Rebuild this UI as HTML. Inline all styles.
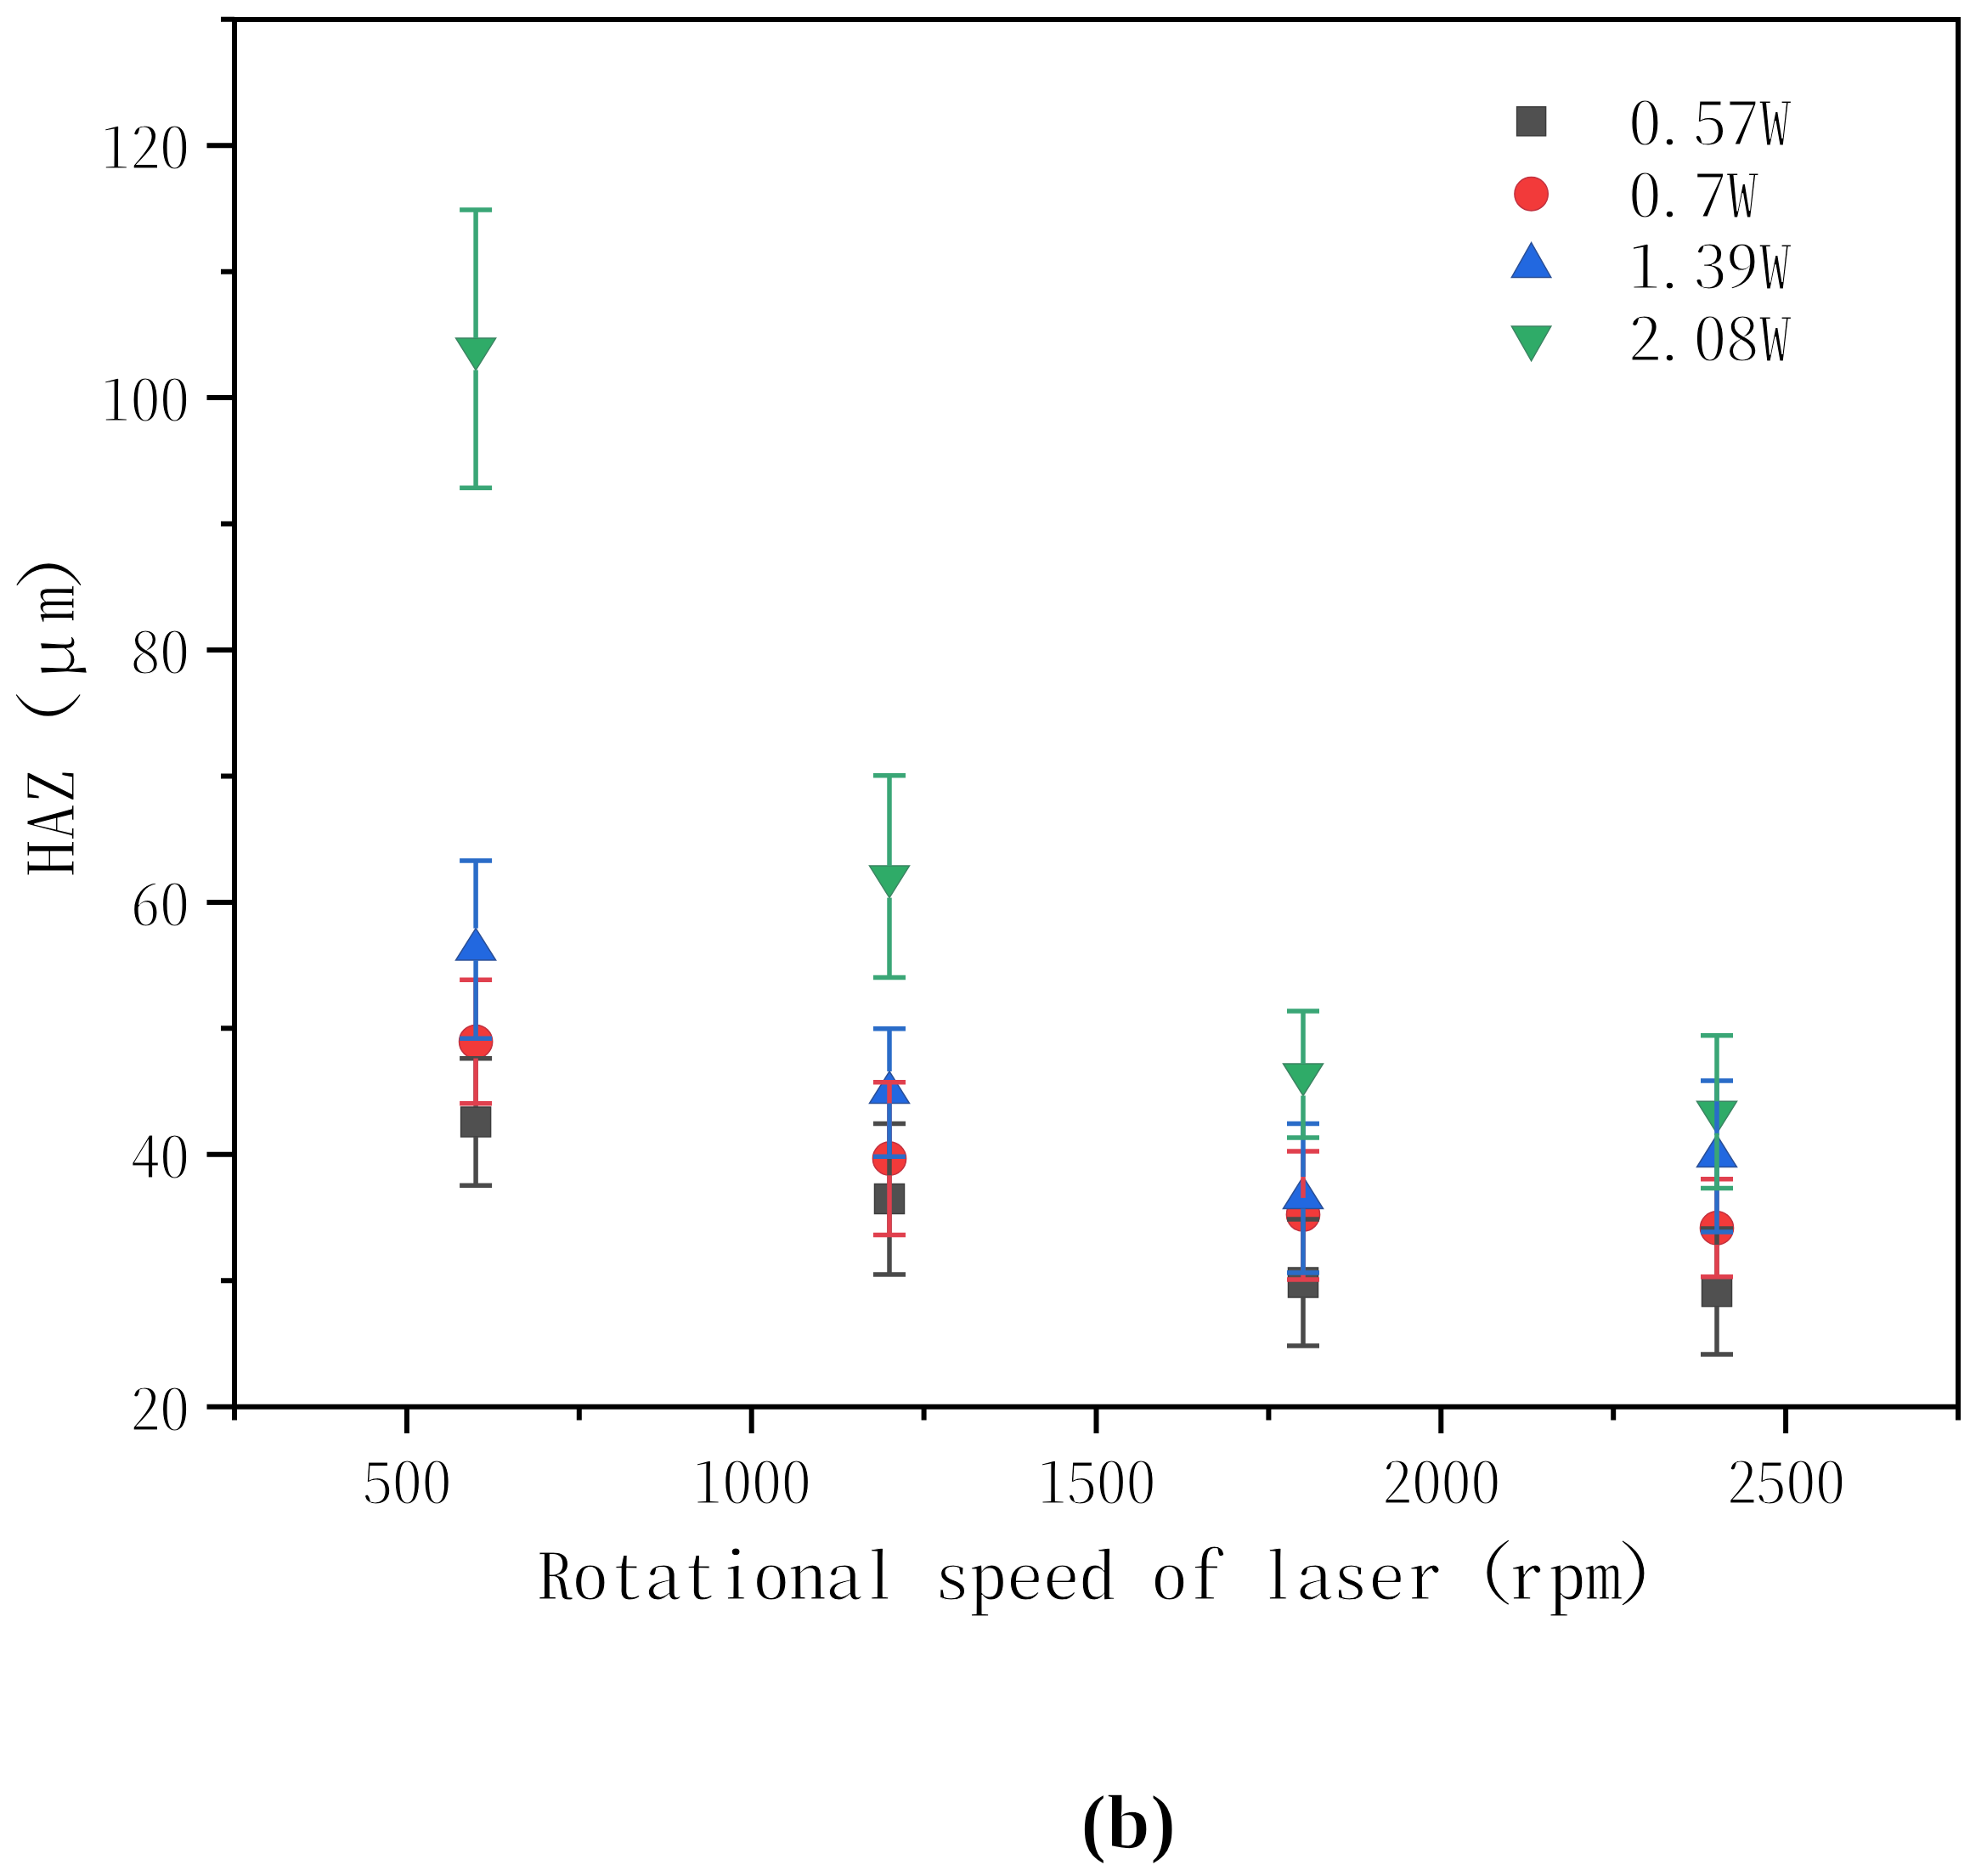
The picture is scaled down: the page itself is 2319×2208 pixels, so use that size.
<!DOCTYPE html>
<html><head><meta charset="utf-8"><title>HAZ vs rotational speed</title>
<style>html,body{margin:0;padding:0;background:#fff;}svg{display:block;}</style>
</head><body>
<svg width="2319" height="2208" viewBox="0 0 2319 2208"><rect x="0" y="0" width="2319" height="2208" fill="#ffffff"/><rect x="542.6" y="1303.0" width="35.0" height="35.0" fill="#505050" stroke="#3c3c3c" stroke-width="1.5"/><rect x="1029.5" y="1393.5" width="35.0" height="35.0" fill="#505050" stroke="#3c3c3c" stroke-width="1.5"/><rect x="1516.5" y="1492.0" width="35.0" height="35.0" fill="#505050" stroke="#3c3c3c" stroke-width="1.5"/><rect x="2003.5" y="1502.6" width="35.0" height="35.0" fill="#505050" stroke="#3c3c3c" stroke-width="1.5"/><circle cx="560.1" cy="1226.0" r="19.6" fill="#f23a3a" stroke="#c2303e" stroke-width="1.5"/><circle cx="1047.0" cy="1363.7" r="19.6" fill="#f23a3a" stroke="#c2303e" stroke-width="1.5"/><circle cx="1534.0" cy="1429.5" r="19.6" fill="#f23a3a" stroke="#c2303e" stroke-width="1.5"/><circle cx="2021.0" cy="1445.3" r="19.6" fill="#f23a3a" stroke="#c2303e" stroke-width="1.5"/><polygon points="560.1,1092.6 583.6,1130.1 536.6,1130.1" fill="#2268e0" stroke="#2a4f96" stroke-width="1.5" stroke-linejoin="miter"/><polygon points="1047.0,1261.0 1070.5,1298.5 1023.5,1298.5" fill="#2268e0" stroke="#2a4f96" stroke-width="1.5" stroke-linejoin="miter"/><polygon points="1534.0,1385.0 1557.5,1422.5 1510.5,1422.5" fill="#2268e0" stroke="#2a4f96" stroke-width="1.5" stroke-linejoin="miter"/><polygon points="2021.0,1336.0 2044.5,1373.5 1997.5,1373.5" fill="#2268e0" stroke="#2a4f96" stroke-width="1.5" stroke-linejoin="miter"/><polygon points="536.6,398.1 583.6,398.1 560.1,435.6" fill="#2fab68" stroke="#3b8462" stroke-width="1.5" stroke-linejoin="miter"/><polygon points="1023.5,1019.1 1070.5,1019.1 1047.0,1056.6" fill="#2fab68" stroke="#3b8462" stroke-width="1.5" stroke-linejoin="miter"/><polygon points="1510.5,1252.0 1557.5,1252.0 1534.0,1289.5" fill="#2fab68" stroke="#3b8462" stroke-width="1.5" stroke-linejoin="miter"/><polygon points="1997.5,1296.3 2044.5,1296.3 2021.0,1333.8" fill="#2fab68" stroke="#3b8462" stroke-width="1.5" stroke-linejoin="miter"/><line x1="560.1" y1="1245.8" x2="560.1" y2="1303.0" stroke="#4a4a4a" stroke-width="5.5"/><line x1="560.1" y1="1338.0" x2="560.1" y2="1395.3" stroke="#4a4a4a" stroke-width="5.5"/><line x1="541.1" y1="1245.8" x2="579.1" y2="1245.8" stroke="#4a4a4a" stroke-width="5.5"/><line x1="541.1" y1="1395.3" x2="579.1" y2="1395.3" stroke="#4a4a4a" stroke-width="5.5"/><line x1="1047.0" y1="1322.6" x2="1047.0" y2="1393.5" stroke="#4a4a4a" stroke-width="5.5"/><line x1="1047.0" y1="1428.5" x2="1047.0" y2="1500.1" stroke="#4a4a4a" stroke-width="5.5"/><line x1="1028.0" y1="1322.6" x2="1066.0" y2="1322.6" stroke="#4a4a4a" stroke-width="5.5"/><line x1="1028.0" y1="1500.1" x2="1066.0" y2="1500.1" stroke="#4a4a4a" stroke-width="5.5"/><line x1="1534.0" y1="1434.9" x2="1534.0" y2="1492.0" stroke="#4a4a4a" stroke-width="5.5"/><line x1="1534.0" y1="1527.0" x2="1534.0" y2="1584.1" stroke="#4a4a4a" stroke-width="5.5"/><line x1="1515.0" y1="1434.9" x2="1553.0" y2="1434.9" stroke="#4a4a4a" stroke-width="5.5"/><line x1="1515.0" y1="1584.1" x2="1553.0" y2="1584.1" stroke="#4a4a4a" stroke-width="5.5"/><line x1="2021.0" y1="1446.1" x2="2021.0" y2="1502.6" stroke="#4a4a4a" stroke-width="5.5"/><line x1="2021.0" y1="1537.6" x2="2021.0" y2="1594.1" stroke="#4a4a4a" stroke-width="5.5"/><line x1="2002.0" y1="1446.1" x2="2040.0" y2="1446.1" stroke="#4a4a4a" stroke-width="5.5"/><line x1="2002.0" y1="1594.1" x2="2040.0" y2="1594.1" stroke="#4a4a4a" stroke-width="5.5"/><line x1="560.1" y1="1153.3" x2="560.1" y2="1206.4" stroke="#e0404e" stroke-width="5.5"/><line x1="560.1" y1="1245.6" x2="560.1" y2="1298.7" stroke="#e0404e" stroke-width="5.5"/><line x1="541.1" y1="1153.3" x2="579.1" y2="1153.3" stroke="#e0404e" stroke-width="5.5"/><line x1="541.1" y1="1298.7" x2="579.1" y2="1298.7" stroke="#e0404e" stroke-width="5.5"/><line x1="1047.0" y1="1273.8" x2="1047.0" y2="1344.1" stroke="#e0404e" stroke-width="5.5"/><line x1="1047.0" y1="1383.3" x2="1047.0" y2="1453.6" stroke="#e0404e" stroke-width="5.5"/><line x1="1028.0" y1="1273.8" x2="1066.0" y2="1273.8" stroke="#e0404e" stroke-width="5.5"/><line x1="1028.0" y1="1453.6" x2="1066.0" y2="1453.6" stroke="#e0404e" stroke-width="5.5"/><line x1="1534.0" y1="1355.0" x2="1534.0" y2="1409.9" stroke="#e0404e" stroke-width="5.5"/><line x1="1534.0" y1="1449.1" x2="1534.0" y2="1506.0" stroke="#e0404e" stroke-width="5.5"/><line x1="1515.0" y1="1355.0" x2="1553.0" y2="1355.0" stroke="#e0404e" stroke-width="5.5"/><line x1="1515.0" y1="1506.0" x2="1553.0" y2="1506.0" stroke="#e0404e" stroke-width="5.5"/><line x1="2021.0" y1="1387.8" x2="2021.0" y2="1425.7" stroke="#e0404e" stroke-width="5.5"/><line x1="2021.0" y1="1464.9" x2="2021.0" y2="1502.8" stroke="#e0404e" stroke-width="5.5"/><line x1="2002.0" y1="1387.8" x2="2040.0" y2="1387.8" stroke="#e0404e" stroke-width="5.5"/><line x1="2002.0" y1="1502.8" x2="2040.0" y2="1502.8" stroke="#e0404e" stroke-width="5.5"/><line x1="560.1" y1="1013.0" x2="560.1" y2="1092.6" stroke="#2a6cc8" stroke-width="5.5"/><line x1="560.1" y1="1130.1" x2="560.1" y2="1222.2" stroke="#2a6cc8" stroke-width="5.5"/><line x1="541.1" y1="1013.0" x2="579.1" y2="1013.0" stroke="#2a6cc8" stroke-width="5.5"/><line x1="541.1" y1="1222.2" x2="579.1" y2="1222.2" stroke="#2a6cc8" stroke-width="5.5"/><line x1="1047.0" y1="1210.7" x2="1047.0" y2="1261.0" stroke="#2a6cc8" stroke-width="5.5"/><line x1="1047.0" y1="1298.5" x2="1047.0" y2="1361.3" stroke="#2a6cc8" stroke-width="5.5"/><line x1="1028.0" y1="1210.7" x2="1066.0" y2="1210.7" stroke="#2a6cc8" stroke-width="5.5"/><line x1="1028.0" y1="1361.3" x2="1066.0" y2="1361.3" stroke="#2a6cc8" stroke-width="5.5"/><line x1="1534.0" y1="1322.4" x2="1534.0" y2="1385.0" stroke="#2a6cc8" stroke-width="5.5"/><line x1="1534.0" y1="1422.5" x2="1534.0" y2="1498.0" stroke="#2a6cc8" stroke-width="5.5"/><line x1="1515.0" y1="1322.4" x2="1553.0" y2="1322.4" stroke="#2a6cc8" stroke-width="5.5"/><line x1="1515.0" y1="1498.0" x2="1553.0" y2="1498.0" stroke="#2a6cc8" stroke-width="5.5"/><line x1="2021.0" y1="1272.1" x2="2021.0" y2="1336.0" stroke="#2a6cc8" stroke-width="5.5"/><line x1="2021.0" y1="1373.5" x2="2021.0" y2="1450.0" stroke="#2a6cc8" stroke-width="5.5"/><line x1="2002.0" y1="1272.1" x2="2040.0" y2="1272.1" stroke="#2a6cc8" stroke-width="5.5"/><line x1="2002.0" y1="1450.0" x2="2040.0" y2="1450.0" stroke="#2a6cc8" stroke-width="5.5"/><line x1="560.1" y1="246.9" x2="560.1" y2="398.1" stroke="#3aa676" stroke-width="5.5"/><line x1="560.1" y1="435.6" x2="560.1" y2="574.2" stroke="#3aa676" stroke-width="5.5"/><line x1="541.1" y1="246.9" x2="579.1" y2="246.9" stroke="#3aa676" stroke-width="5.5"/><line x1="541.1" y1="574.2" x2="579.1" y2="574.2" stroke="#3aa676" stroke-width="5.5"/><line x1="1047.0" y1="912.8" x2="1047.0" y2="1019.1" stroke="#3aa676" stroke-width="5.5"/><line x1="1047.0" y1="1056.6" x2="1047.0" y2="1150.5" stroke="#3aa676" stroke-width="5.5"/><line x1="1028.0" y1="912.8" x2="1066.0" y2="912.8" stroke="#3aa676" stroke-width="5.5"/><line x1="1028.0" y1="1150.5" x2="1066.0" y2="1150.5" stroke="#3aa676" stroke-width="5.5"/><line x1="1534.0" y1="1190.0" x2="1534.0" y2="1252.0" stroke="#3aa676" stroke-width="5.5"/><line x1="1534.0" y1="1289.5" x2="1534.0" y2="1339.0" stroke="#3aa676" stroke-width="5.5"/><line x1="1515.0" y1="1190.0" x2="1553.0" y2="1190.0" stroke="#3aa676" stroke-width="5.5"/><line x1="1515.0" y1="1339.0" x2="1553.0" y2="1339.0" stroke="#3aa676" stroke-width="5.5"/><line x1="2021.0" y1="1218.8" x2="2021.0" y2="1296.3" stroke="#3aa676" stroke-width="5.5"/><line x1="2021.0" y1="1333.8" x2="2021.0" y2="1398.4" stroke="#3aa676" stroke-width="5.5"/><line x1="2002.0" y1="1218.8" x2="2040.0" y2="1218.8" stroke="#3aa676" stroke-width="5.5"/><line x1="2002.0" y1="1398.4" x2="2040.0" y2="1398.4" stroke="#3aa676" stroke-width="5.5"/><path d="M276.0,1655.7 L276.0,23.0 L2305.0,23.0 L2305.0,1655.7 Z" fill="none" stroke="#000" stroke-width="6" stroke-linejoin="miter"/><path d="M243.5,1655.7 H276.0 M243.5,1358.8 H276.0 M243.5,1061.9 H276.0 M243.5,765.0 H276.0 M243.5,468.1 H276.0 M243.5,171.2 H276.0 M260,1507.2 H276.0 M260,1210.3 H276.0 M260,913.5 H276.0 M260,616.5 H276.0 M260,319.7 H276.0 M260,22.8 H276.0 M478.9,1655.7 V1687 M884.7,1655.7 V1687 M1290.5,1655.7 V1687 M1696.3,1655.7 V1687 M2102.1,1655.7 V1687 M276.0,1655.7 V1671.5 M681.8,1655.7 V1671.5 M1087.6,1655.7 V1671.5 M1493.4,1655.7 V1671.5 M1899.2,1655.7 V1671.5 M2305.0,1655.7 V1671.5" fill="none" stroke="#000" stroke-width="6"/><text transform="translate(0,1682.6) scale(1,0.935)" x="171.0 205.7" y="0" font-family="'Noto Serif CJK SC', 'Liberation Serif', serif" style="font-feature-settings:'hwid' 1" font-size="69.4" text-anchor="middle" fill="#000" stroke="#fff" stroke-width="1.2">20</text><text transform="translate(0,1385.7) scale(1,0.935)" x="171.0 205.7" y="0" font-family="'Noto Serif CJK SC', 'Liberation Serif', serif" style="font-feature-settings:'hwid' 1" font-size="69.4" text-anchor="middle" fill="#000" stroke="#fff" stroke-width="1.2">40</text><text transform="translate(0,1088.8) scale(1,0.935)" x="171.0 205.7" y="0" font-family="'Noto Serif CJK SC', 'Liberation Serif', serif" style="font-feature-settings:'hwid' 1" font-size="69.4" text-anchor="middle" fill="#000" stroke="#fff" stroke-width="1.2">60</text><text transform="translate(0,791.9) scale(1,0.935)" x="171.0 205.7" y="0" font-family="'Noto Serif CJK SC', 'Liberation Serif', serif" style="font-feature-settings:'hwid' 1" font-size="69.4" text-anchor="middle" fill="#000" stroke="#fff" stroke-width="1.2">80</text><text transform="translate(0,495.0) scale(1,0.935)" x="136.3 171.0 205.7" y="0" font-family="'Noto Serif CJK SC', 'Liberation Serif', serif" style="font-feature-settings:'hwid' 1" font-size="69.4" text-anchor="middle" fill="#000" stroke="#fff" stroke-width="1.2">100</text><text transform="translate(0,198.1) scale(1,0.935)" x="136.3 171.0 205.7" y="0" font-family="'Noto Serif CJK SC', 'Liberation Serif', serif" style="font-feature-settings:'hwid' 1" font-size="69.4" text-anchor="middle" fill="#000" stroke="#fff" stroke-width="1.2">120</text><text transform="translate(0,1769.0) scale(1,0.935)" x="444.7 479.4 514.1" y="0" font-family="'Noto Serif CJK SC', 'Liberation Serif', serif" style="font-feature-settings:'hwid' 1" font-size="69.4" text-anchor="middle" fill="#000" stroke="#fff" stroke-width="1.2">500</text><text transform="translate(0,1769.0) scale(1,0.935)" x="833.2 867.9 902.6 937.3" y="0" font-family="'Noto Serif CJK SC', 'Liberation Serif', serif" style="font-feature-settings:'hwid' 1" font-size="69.4" text-anchor="middle" fill="#000" stroke="#fff" stroke-width="1.2">1000</text><text transform="translate(0,1769.0) scale(1,0.935)" x="1239.0 1273.7 1308.4 1343.0" y="0" font-family="'Noto Serif CJK SC', 'Liberation Serif', serif" style="font-feature-settings:'hwid' 1" font-size="69.4" text-anchor="middle" fill="#000" stroke="#fff" stroke-width="1.2">1500</text><text transform="translate(0,1769.0) scale(1,0.935)" x="1644.8 1679.5 1714.2 1748.8" y="0" font-family="'Noto Serif CJK SC', 'Liberation Serif', serif" style="font-feature-settings:'hwid' 1" font-size="69.4" text-anchor="middle" fill="#000" stroke="#fff" stroke-width="1.2">2000</text><text transform="translate(0,1769.0) scale(1,0.935)" x="2050.5 2085.2 2119.9 2154.6" y="0" font-family="'Noto Serif CJK SC', 'Liberation Serif', serif" style="font-feature-settings:'hwid' 1" font-size="69.4" text-anchor="middle" fill="#000" stroke="#fff" stroke-width="1.2">2500</text><text transform="translate(0,1881.8) scale(1,0.87)" x="652.3 694.9 737.5 780.1 822.7 865.3 907.9 950.5 993.1 1035.7 1078.3 1120.9 1163.5 1206.1 1248.7 1291.3 1333.9 1376.5 1419.1 1461.7 1504.3 1546.9 1589.5 1632.1 1674.7 1717.3 1759.9 1794.5 1845.1 1887.7 1926.0" y="0" dy="0 0 0 0 0 0 0 0 0 0 0 0 0 0 0 0 0 0 0 0 0 0 0 0 0 0 -8.6 8.6 0 0 -8.6" font-family="'Noto Serif CJK SC', 'Liberation Serif', serif" style="font-feature-settings:'hwid' 1" font-size="85.2" text-anchor="middle" fill="#000" stroke="#fff" stroke-width="1.1" xml:space="preserve">Rotational speed of laser (rpm)</text><text transform="translate(87,0) rotate(-90) scale(1,0.87)" x="-1010.3 -967.7 -925.1 -833.4 -774.2 -710.8 -672.6" y="0" dy="0 0 0 -8.0 8.0 0 -8.0" font-family="'Noto Serif CJK SC', 'Liberation Serif', serif" style="font-feature-settings:'hwid' 1" font-size="85.2" text-anchor="middle" fill="#000" stroke="#fff" stroke-width="1.1">HAZ（μm）</text><rect x="1785.6" y="125.8" width="34.0" height="34.0" fill="#505050" stroke="#3c3c3c" stroke-width="1.5"/><circle cx="1802.6" cy="228.2" r="19.7" fill="#f23a3a" stroke="#c2303e" stroke-width="1.5"/><polygon points="1802.6,285.6 1825.8,326.4 1779.4,326.4" fill="#2268e0" stroke="#2a4f96" stroke-width="1.5" stroke-linejoin="miter"/><polygon points="1779.4,384.0 1825.8,384.0 1802.6,424.8" fill="#2fab68" stroke="#3b8462" stroke-width="1.5" stroke-linejoin="miter"/><text transform="translate(0,170.4) scale(1,0.89)" x="1936.4 1965.5 2013.0 2051.2 2089.6" y="0" font-family="'Noto Serif CJK SC', 'Liberation Serif', serif" style="font-feature-settings:'hwid' 1" font-size="76.6" text-anchor="middle" fill="#000" stroke="#fff" stroke-width="1.2">0.57W</text><text transform="translate(0,254.9) scale(1,0.89)" x="1936.4 1965.5 2013.0 2051.2" y="0" font-family="'Noto Serif CJK SC', 'Liberation Serif', serif" style="font-feature-settings:'hwid' 1" font-size="76.6" text-anchor="middle" fill="#000" stroke="#fff" stroke-width="1.2">0.7W</text><text transform="translate(0,339.4) scale(1,0.89)" x="1936.4 1965.5 2013.0 2051.2 2089.6" y="0" font-family="'Noto Serif CJK SC', 'Liberation Serif', serif" style="font-feature-settings:'hwid' 1" font-size="76.6" text-anchor="middle" fill="#000" stroke="#fff" stroke-width="1.2">1.39W</text><text transform="translate(0,423.9) scale(1,0.89)" x="1936.4 1965.5 2013.0 2051.2 2089.6" y="0" font-family="'Noto Serif CJK SC', 'Liberation Serif', serif" style="font-feature-settings:'hwid' 1" font-size="76.6" text-anchor="middle" fill="#000" stroke="#fff" stroke-width="1.2">2.08W</text><text x="1328.3" y="2174.8" font-family="'Liberation Serif', 'Noto Serif CJK SC', serif" font-size="92" font-weight="bold" text-anchor="middle" fill="#000" stroke="#fff" stroke-width="1.6">(b)</text></svg>
</body></html>
